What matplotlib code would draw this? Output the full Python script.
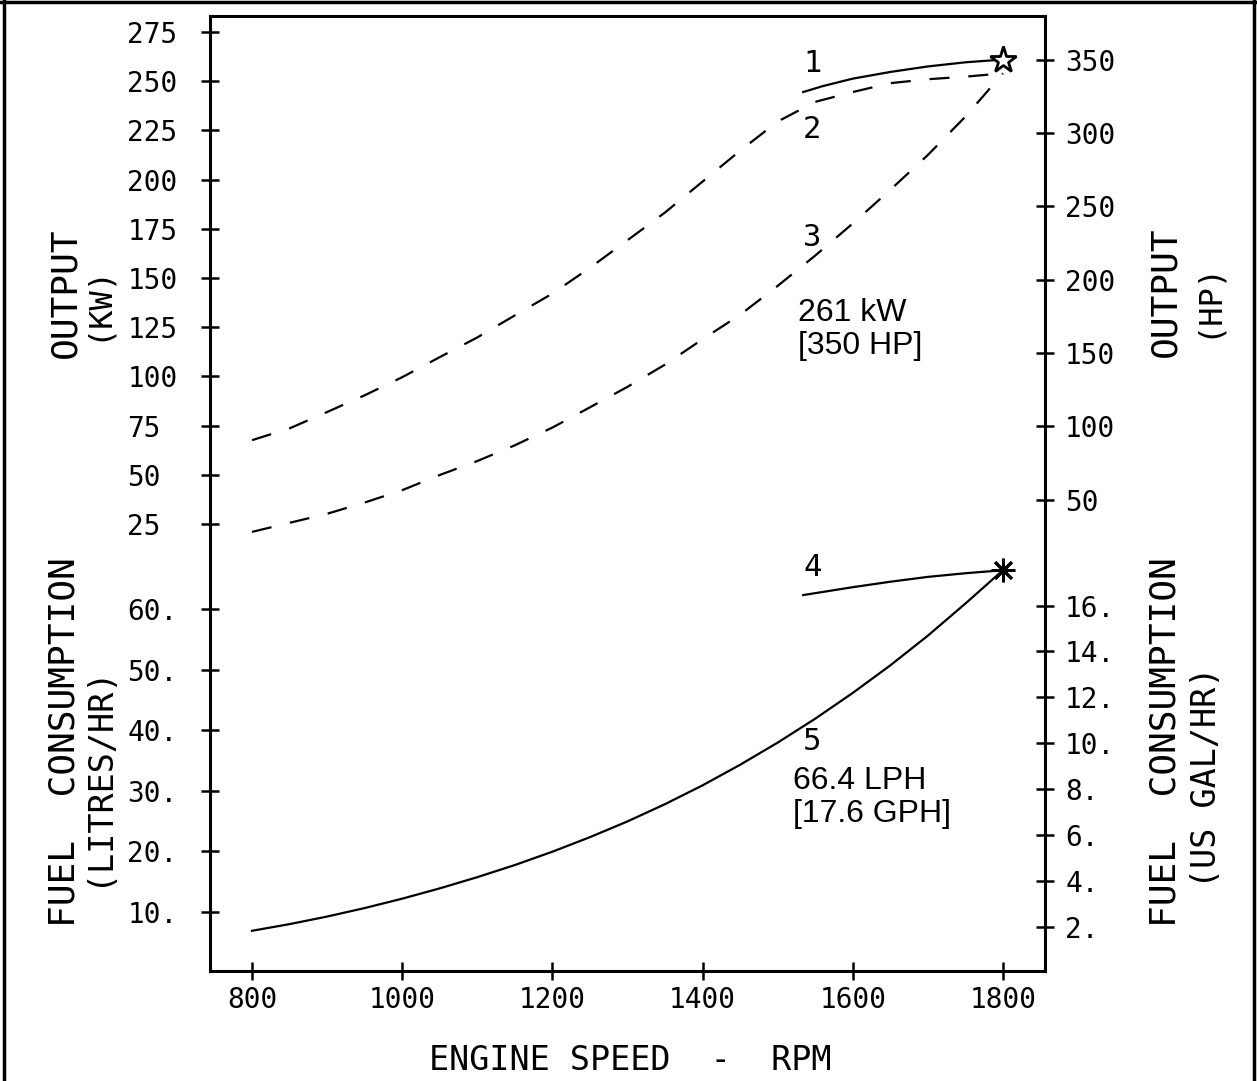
import matplotlib
matplotlib.use("Agg")
import matplotlib.pyplot as plt
from matplotlib.lines import Line2D

plt.rcParams['font.family'] = ['DejaVu Sans Mono', 'DejaVu Sans']

# --- data ---
rpm_1 = [1534, 1560, 1600, 1650, 1700, 1750, 1800]
kw_1 = [244.5, 247.5, 251.3, 254.7, 257.5, 259.6, 261.0]

rpm_23 = [800, 850, 900, 950, 1000, 1050, 1100, 1150, 1200, 1250, 1300,
          1350, 1400, 1450, 1500, 1550, 1600, 1650, 1700, 1750, 1800]
kw_2 = [67.6, 73.6, 81.9, 90.4, 99.6, 109.8, 119.8, 131.0, 142.1, 155.2, 169.2,
        183.3, 199.0, 214.7, 229.5, 239.5, 244.5, 249.0, 251.0, 252.3, 254.0]
kw_3 = [21.0, 25.6, 30.2, 35.9, 42.2, 49.9, 57.0, 65.0, 74.0, 84.3, 94.7,
        106.0, 118.9, 131.3, 146.0, 161.4, 177.7, 194.8, 212.5, 232.0, 254.0]

rpm_4 = [1534, 1600, 1650, 1700, 1750, 1800]
lph_4 = [62.3, 63.6, 64.5, 65.3, 65.9, 66.4]

rpm_5 = rpm_23
lph_5 = [6.9, 8.0, 9.25, 10.65, 12.2, 13.9, 15.75, 17.75, 19.95, 22.35, 24.95,
         27.8, 30.9, 34.3, 37.95, 41.9, 46.15, 50.7, 55.6, 60.9, 66.4]

rated_rpm = 1800
rated_kw = 261
rated_lph = 66.4

rpm_ticks = [800, 1000, 1200, 1400, 1600, 1800]
kw_ticks = [25, 50, 75, 100, 125, 150, 175, 200, 225, 250, 275]
lph_ticks = [10, 20, 30, 40, 50, 60]
hp_ticks = [50, 100, 150, 200, 250, 300, 350]
gph_ticks = [2, 4, 6, 8, 10, 12, 14, 16]

KW_PER_HP = 0.7457
L_PER_GAL = 3.785

# --- figure geometry (pixels) ---
W, H = 1257, 1081
fig = plt.figure(figsize=(W / 100, H / 100), dpi=100)


def fx(px):
    return px / W


def fy(py):
    return 1 - py / H


rect = [fx(210), fy(971), fx(1045) - fx(210), fy(16) - fy(971)]
ax = fig.add_axes(rect)
axf = fig.add_axes(rect, label='fuel')
axhp = fig.add_axes(rect, label='hp')
axg = fig.add_axes(rect, label='gph')

xlim = (744, 1856)
kw_lim = ((573.2 - 971) / 1.968, (573.2 - 16) / 1.968)
lph_lim = ((972.6 - 971) / 6.06, (972.6 - 16) / 6.06)

for a in (ax, axf, axhp, axg):
    a.set_xlim(*xlim)
for a in (axf, axhp, axg):
    a.set_facecolor('none')
    for s in a.spines.values():
        s.set_visible(False)
    a.tick_params(axis='x', which='both', bottom=False, labelbottom=False)

ax.set_ylim(*kw_lim)
axf.set_ylim(*lph_lim)
axhp.set_ylim(kw_lim[0] / KW_PER_HP, kw_lim[1] / KW_PER_HP)
axg.set_ylim(lph_lim[0] / L_PER_GAL, lph_lim[1] / L_PER_GAL)

for s in ax.spines.values():
    s.set_linewidth(2.2)

tick_kw = dict(direction='inout', length=13, width=1.8, labelsize=20)

ax.set_xticks(rpm_ticks, [str(v) for v in rpm_ticks])
ax.tick_params(axis='x', top=False, pad=4, **tick_kw)

ax.set_yticks(kw_ticks, [str(v) for v in kw_ticks])
ax.tick_params(axis='y', left=True, right=False, pad=53, **tick_kw)
axf.set_yticks(lph_ticks, [f"{v}." for v in lph_ticks])
axf.tick_params(axis='y', left=True, right=False, pad=53, **tick_kw)
for a in (ax, axf):
    for t in a.yaxis.get_major_ticks():
        t.label1.set_horizontalalignment('left')

axhp.yaxis.tick_right()
axhp.set_yticks(hp_ticks, [str(v) for v in hp_ticks])
axhp.tick_params(axis='y', pad=8, **tick_kw)
axg.yaxis.tick_right()
axg.set_yticks(gph_ticks, [f"{v}." for v in gph_ticks])
axg.tick_params(axis='y', pad=8, **tick_kw)

# --- curves ---
dash = (0, (9, 8.5))
ax.plot(rpm_1, kw_1, color='black', lw=1.6)
ax.plot(rpm_23, kw_2, color='black', lw=1.6, linestyle=dash)
ax.plot(rpm_23, kw_3, color='black', lw=1.6, linestyle=dash)
ax.plot([rated_rpm], [rated_kw], marker='*', ms=20, mfc='white', mec='black',
        mew=2.0, clip_on=False)

axf.plot(rpm_4, lph_4, color='black', lw=1.6)
axf.plot(rpm_5, lph_5, color='black', lw=1.6)
axf.plot([rated_rpm], [rated_lph], marker=(8, 2, 0), ms=17, mec='black',
         mew=2.0, clip_on=False)

# curve numbers
ax.text(1534, (573.2 - 63) / 1.968, '1', fontsize=22, ha='left', va='center')
ax.text(1534, (573.2 - 130) / 1.968, '2', fontsize=22, ha='left', va='center')
ax.text(1534, (573.2 - 237) / 1.968, '3', fontsize=22, ha='left', va='center')
axf.text(1534, (972.6 - 567) / 6.06, '4', fontsize=22, ha='left', va='center')
axf.text(1534, (972.6 - 742) / 6.06, '5', fontsize=22, ha='left', va='center')

ax.text(1527, (573.2 - 298) / 1.968, '261 kW\n[350 HP]', family='Liberation Sans',
        fontsize=23, ha='left', va='top', linespacing=1.15)
axf.text(1520, (972.6 - 766) / 6.06, '66.4 LPH\n[17.6 GPH]', family='Liberation Sans',
         fontsize=23, ha='left', va='top', linespacing=1.15)

# --- axis titles ---
fig.text(fx(630), fy(1060), 'ENGINE SPEED  -  RPM', fontsize=24, ha='center', va='center')

fig.text(fx(65), fy(293), 'OUTPUT', fontsize=26, rotation=90, ha='center', va='center')
fig.text(fx(97), fy(303), '(KW)', fontsize=23, rotation=90, ha='center', va='center')
fig.text(fx(65), fy(742), 'FUEL  CONSUMPTION', fontsize=26, rotation=90, ha='center', va='center')
fig.text(fx(98), fy(775), '(LITRES/HR)', fontsize=24, rotation=90, ha='center', va='center')

fig.text(fx(1165), fy(292), 'OUTPUT', fontsize=26, rotation=90, ha='center', va='center')
fig.text(fx(1207), fy(300), '(HP)', fontsize=23, rotation=90, ha='center', va='center')
fig.text(fx(1165), fy(742), 'FUEL  CONSUMPTION', fontsize=26, rotation=90, ha='center', va='center')
fig.text(fx(1207), fy(777), '(US GAL/HR)', fontsize=24, rotation=90, ha='center', va='center')

# outer frame (open at bottom)
for xs, ys in (([4, 4], [0, H]), ([1254, 1254], [0, H]), ([0, W], [1.5, 1.5])):
    fig.add_artist(Line2D([fx(v) for v in xs], [fy(v) for v in ys], color='black',
                          lw=2.5, transform=fig.transFigure))

fig.savefig('out.png', dpi=100)
